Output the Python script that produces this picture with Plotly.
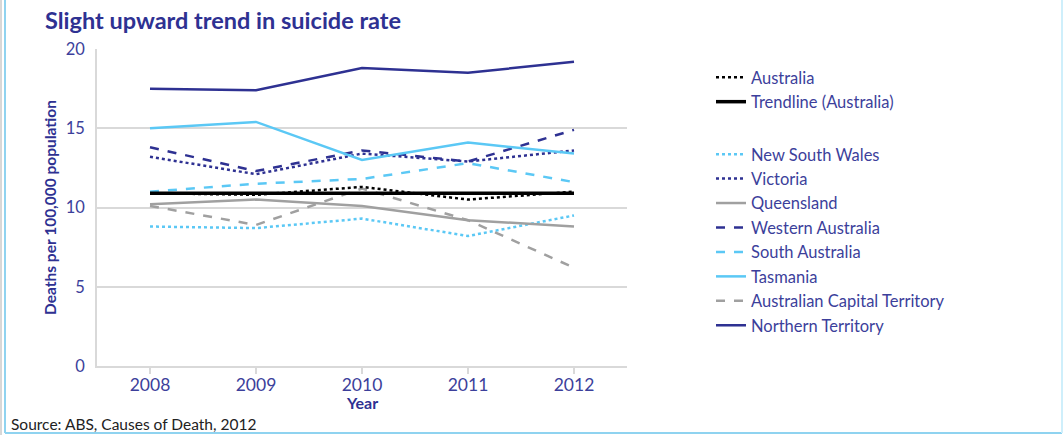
import plotly.graph_objects as go

# Suicide rates (deaths per 100,000 population), ABS Causes of Death 2012
years = [2008, 2009, 2010, 2011, 2012]

australia = [10.9, 10.8, 11.3, 10.5, 11.0]
trend_australia = [10.9, 10.9, 10.9, 10.9, 10.9]

nsw = [8.8, 8.7, 9.3, 8.2, 9.5]
victoria = [13.2, 12.1, 13.4, 12.9, 13.6]
queensland = [10.2, 10.5, 10.1, 9.2, 8.8]
western_australia = [13.8, 12.3, 13.6, 12.9, 14.9]
south_australia = [11.0, 11.5, 11.8, 12.8, 11.6]
tasmania = [15.0, 15.4, 13.0, 14.1, 13.4]
act = [10.1, 8.9, 11.2, 9.2, 6.2]
northern_territory = [17.5, 17.4, 18.8, 18.5, 19.2]

y_ticks = [0, 5, 10, 15, 20]

NAVY = "#2E3192"
LIGHT = "#5BC8F5"
GREY = "#A0A0A0"
TEXT = "#3C3F9B"

W, H = 1063, 436
L, R, T, B = 97, 436, 49, 70
PW, PH = W - L - R, H - T - B

series = [
    ("Australia", australia, "#000000", "dot", 2.5, "aus"),
    ("Trendline (Australia)", trend_australia, "#000000", "solid", 3.5, "aus"),
    ("New South Wales", nsw, LIGHT, "dot", 2.5, "states"),
    ("Victoria", victoria, NAVY, "dot", 2.5, "states"),
    ("Queensland", queensland, GREY, "solid", 2.5, "states"),
    ("Western Australia", western_australia, NAVY, "dash", 2.5, "states"),
    ("South Australia", south_australia, LIGHT, "dash", 2.5, "states"),
    ("Tasmania", tasmania, LIGHT, "solid", 2.5, "states"),
    ("Australian Capital Territory", act, GREY, "dash", 2.5, "states"),
    ("Northern Territory", northern_territory, NAVY, "solid", 2.5, "states"),
]
order = [s[0] for s in series]

fig = go.Figure()
# draw states first, national series on top
for name, vals, color, dash, width, group in series[2:] + series[:2]:
    fig.add_trace(go.Scatter(
        x=years, y=vals, name=name, mode="lines",
        line=dict(color=color, dash=dash, width=width),
        legendgroup=group, legendrank=order.index(name) + 1,
    ))


def px_x(px):
    return (px - L) / PW


def px_y(py):
    return (H - B - py) / PH


shapes = [
    # outer frame
    dict(type="line", xref="paper", yref="paper", x0=px_x(5), x1=px_x(5),
         y0=px_y(0), y1=px_y(433), line=dict(color="#8FD3F0", width=2)),
    dict(type="line", xref="paper", yref="paper", x0=px_x(1), x1=px_x(1),
         y0=px_y(0), y1=px_y(435), line=dict(color="#B0B0B0", width=1)),
    dict(type="line", xref="paper", yref="paper", x0=px_x(5), x1=px_x(1062),
         y0=px_y(433), y1=px_y(433), line=dict(color="#8FD3F0", width=2)),
    dict(type="line", xref="paper", yref="paper", x0=px_x(1062), x1=px_x(1062),
         y0=px_y(0), y1=px_y(433), line=dict(color="#CFEFFB", width=2)),
]

annotations = [
    dict(text="<b>Slight upward trend in suicide rate</b>", xref="paper", yref="paper",
         x=px_x(43), y=px_y(20), xanchor="left", yanchor="middle", showarrow=False,
         font=dict(family="Lato", size=23.5, color=NAVY)),
    dict(text="<b>Year</b>", xref="paper", yref="paper",
         x=0.5, y=px_y(402), xanchor="center", yanchor="middle", showarrow=False,
         font=dict(family="Lato", size=16, color=NAVY)),
    dict(text="Source: ABS, Causes of Death, 2012", xref="paper", yref="paper",
         x=px_x(9), y=px_y(424), xanchor="left", yanchor="middle", showarrow=False,
         font=dict(family="Lato", size=15.5, color="#222222")),
]

fig.update_layout(
    width=W, height=H,
    margin=dict(l=L, r=R, t=T, b=B, pad=0),
    paper_bgcolor="white", plot_bgcolor="white",
    font=dict(family="Lato", color=TEXT),
    showlegend=True,
    legend=dict(
        x=px_x(711), y=px_y(60), xanchor="left", yanchor="top",
        font=dict(family="Lato", size=16.5, color=TEXT),
        traceorder="grouped", tracegroupgap=28,
        itemwidth=30, bgcolor="rgba(0,0,0,0)",
    ),
    xaxis=dict(
        range=[2007.5, 2012.5], tickvals=years, ticktext=[str(y) for y in years],
        showgrid=False, zeroline=False, showline=True, linecolor="#D9D9D9", linewidth=1.5,
        ticks="outside", ticklen=6, tickcolor="#D9D9D9", tickwidth=1.5,
        tickfont=dict(family="Lato", size=17.5, color=TEXT), ticklabelstandoff=-4,
    ),
    yaxis=dict(
        range=[0, 20], tickvals=y_ticks, showgrid=True, gridcolor="#D9D9D9", gridwidth=1.5,
        zeroline=False, showline=True, linecolor="#D9D9D9", linewidth=1.5,
        tickfont=dict(family="Lato", size=16.5, color=TEXT), ticks="", ticklabelstandoff=7,
        title=dict(text="<b>Deaths per 100,000 population</b>",
                   font=dict(family="Lato", size=15.5, color=NAVY), standoff=5),
    ),
    shapes=shapes, annotations=annotations,
)

fig.write_html("out.html")
